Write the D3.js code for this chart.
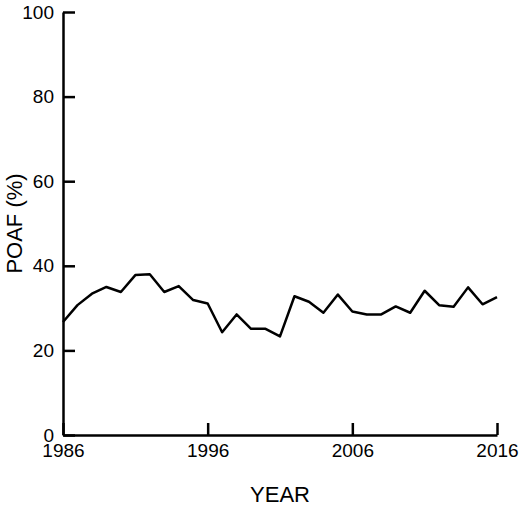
<!DOCTYPE html>
<html><head><meta charset="utf-8">
<script src="https://cdn.jsdelivr.net/npm/d3@7"></script>
<style>body{margin:0;background:#fff}svg text{font-family:"Liberation Sans",Arial,sans-serif}</style>
</head><body><svg id="c" width="520" height="508"></svg>
<script>
var years = d3.range(1986, 2017);
var poaf = [26.7,30.7,33.4,35.0,33.8,37.8,38.0,33.8,35.2,31.9,31.1,24.3,28.5,25.1,25.1,23.3,32.8,31.5,28.9,33.2,29.2,28.5,28.5,30.4,28.9,34.1,30.7,30.3,34.9,30.9,32.6];
var xTicks = [1986, 1996, 2006, 2016];
var yTicks = [0, 20, 40, 60, 80, 100];

var margin = {top: 12, left: 63, right: 23, bottom: 73};
var width = 520 - margin.left - margin.right;
var height = 508 - margin.top - margin.bottom;

var svg = d3.select("#c");
var g = svg.append("g").attr("transform", `translate(${margin.left},${margin.top})`);

var x = d3.scaleLinear().domain([1986, 2016]).range([0, width]);
var y = d3.scaleLinear().domain([0, 100]).range([height, 0]);

var xAxis = g.append("g").attr("transform", `translate(0,${height})`)
  .call(d3.axisBottom(x).tickValues(xTicks).tickFormat(d3.format("d")).tickSizeInner(-12).tickSizeOuter(0).tickPadding(9));
var yAxis = g.append("g")
  .call(d3.axisLeft(y).tickValues(yTicks).tickSizeInner(-12).tickSizeOuter(0).tickPadding(9));
[xAxis, yAxis].forEach(function(a) {
  a.selectAll("path,line").attr("stroke", "#000").attr("stroke-width", 2.5);
  a.selectAll("text").attr("font-size", 19).attr("fill", "#000");
});

g.append("path").datum(poaf)
  .attr("fill", "none").attr("stroke", "#000").attr("stroke-width", 2.5)
  .attr("stroke-linejoin", "round")
  .attr("d", d3.line().x((d, i) => x(years[i])).y(d => y(d)));

svg.append("text").attr("transform", `translate(22,${margin.top + height / 2}) rotate(-90)`)
  .attr("text-anchor", "middle").attr("font-size", 22).text("POAF (%)");
svg.append("text").attr("x", margin.left + width / 2).attr("y", 502)
  .attr("text-anchor", "middle").attr("font-size", 22).text("YEAR");
</script></body></html>
